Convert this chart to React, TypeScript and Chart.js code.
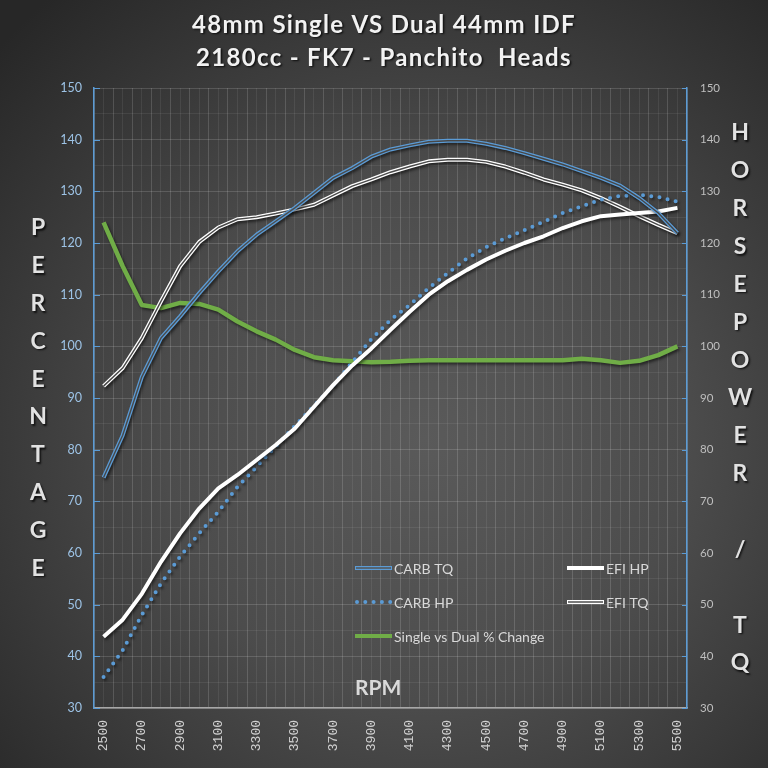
import React, { useEffect, useRef } from "react";
import { Chart, registerables } from "chart.js";

Chart.register(...registerables);

// ---------- data ----------
const RPM = [
  2500, 2600, 2700, 2800, 2900, 3000, 3100, 3200, 3300, 3400, 3500,
  3600, 3700, 3800, 3900, 4000, 4100, 4200, 4300, 4400, 4500,
  4600, 4700, 4800, 4900, 5000, 5100, 5200, 5300, 5400, 5500,
];
const CARB_TQ = [
  74.6, 82.8, 94.1, 101.6, 105.8, 110.3, 114.5, 118.4, 121.6, 124.2, 126.8,
  129.7, 132.6, 134.5, 136.7, 138.1, 138.9, 139.6, 139.8, 139.8, 139.2,
  138.4, 137.4, 136.3, 135.2, 133.9, 132.6, 131.1, 128.7, 125.8, 121.9,
];
const EFI_HP = [
  43.8, 47.1, 52.1, 58.3, 63.8, 68.6, 72.5, 75.1, 78.0, 80.9, 84.1,
  88.3, 92.5, 96.3, 99.6, 103.2, 106.7, 110.0, 112.6, 114.8, 116.8,
  118.5, 120.0, 121.3, 122.9, 124.2, 125.2, 125.5, 125.8, 126.1, 126.8,
];
const CARB_HP = [
  36.0, 41.2, 48.0, 54.1, 59.3, 63.8, 68.0, 72.8, 76.7, 80.6, 84.6,
  88.5, 92.4, 96.9, 101.4, 105.1, 108.0, 111.3, 114.2, 117.0, 119.2,
  120.9, 122.5, 124.1, 125.8, 127.1, 128.4, 129.1, 129.3, 128.9, 128.0,
];
const EFI_TQ = [
  92.3, 95.8, 101.6, 108.7, 115.5, 120.2, 123.0, 124.6, 125.0, 125.7, 126.5,
  127.4, 129.2, 131.0, 132.3, 133.7, 134.8, 135.8, 136.1, 136.1, 135.7,
  134.8, 133.6, 132.3, 131.3, 130.2, 128.7, 127.0, 125.2, 123.5, 121.9,
];
const PCT_CHANGE = [
  124.0, 115.5, 108.0, 107.4, 108.4, 108.2, 107.1, 104.8, 102.9, 101.3, 99.3,
  97.9, 97.3, 97.1, 96.9, 97.0, 97.2, 97.3, 97.3, 97.3, 97.3,
  97.3, 97.3, 97.3, 97.3, 97.6, 97.3, 96.8, 97.2, 98.3, 100.0,
];
const SERIES_NAMES = ["CARB TQ", "EFI HP", "CARB HP", "EFI TQ", "Single vs Dual % Change"];
const TITLE_LINES = ["48mm Single VS Dual 44mm IDF", "2180cc - FK7 - Panchito  Heads"];
const LEFT_AXIS_TITLE = "PERCENTAGE";
const RIGHT_AXIS_TITLE = "HORSEPOWER / TQ";
const X_AXIS_TITLE = "RPM";
const Y_MIN = 30;
const Y_MAX = 150;
const X_MIN = 2450;
const X_MAX = 5550;

// ---------- styles ----------
const BLUE = "#5b9bd5";
const GREEN = "#70ad47";
const WHITE = "#ffffff";

function makeBg(ctx: CanvasRenderingContext2D) {
  const g = ctx.createRadialGradient(425, 440, 0, 425, 440, 580);
  g.addColorStop(0, "#5a5a5a");
  g.addColorStop(0.45, "#4c4c4c");
  g.addColorStop(1, "#272727");
  return g;
}

function pts(values: number[]) {
  return RPM.map((r, i) => ({ x: r, y: values[i] }));
}

export default function App() {
  const ref = useRef<HTMLCanvasElement | null>(null);

  useEffect(() => {
    document.body.style.margin = "0";
    document.body.style.overflow = "hidden";
    const canvas = ref.current!;
    const c2d = canvas.getContext("2d")!;
    const gapColor = makeBg(c2d);

    const shadowed = new Set<number>([1, 2, 3, 5, 6]);

    const bgPlugin = {
      id: "bgPlugin",
      beforeDraw(chart: any) {
        const ctx = chart.ctx;
        ctx.save();
        ctx.fillStyle = makeBg(ctx);
        ctx.fillRect(0, 0, chart.width, chart.height);
        ctx.restore();
      },
    };

    const shadowPlugin = {
      id: "shadowPlugin",
      beforeDatasetDraw(chart: any, args: any) {
        if (shadowed.has(args.index)) {
          const ctx = chart.ctx;
          ctx.save();
          ctx.shadowColor = "rgba(0,0,0,0.55)";
          ctx.shadowBlur = 3;
          ctx.shadowOffsetX = 1.5;
          ctx.shadowOffsetY = 2;
        }
      },
      afterDatasetDraw(chart: any, args: any) {
        if (shadowed.has(args.index)) chart.ctx.restore();
      },
    };

    const drawSample = (ctx: CanvasRenderingContext2D, kind: string, color: string, x1: number, x2: number, y: number) => {
      ctx.save();
      ctx.lineCap = "butt";
      if (kind === "dots") {
        ctx.setLineDash([0, 8.3]);
        ctx.lineCap = "round";
        ctx.lineWidth = 4;
        ctx.strokeStyle = color;
        ctx.beginPath();
        ctx.moveTo(x1 + 2, y);
        ctx.lineTo(x2, y);
        ctx.stroke();
      } else {
        ctx.lineWidth = 4;
        ctx.strokeStyle = color;
        ctx.beginPath();
        ctx.moveTo(x1, y);
        ctx.lineTo(x2, y);
        ctx.stroke();
        if (kind === "double") {
          ctx.lineWidth = 1.4;
          ctx.strokeStyle = gapColor;
          ctx.beginPath();
          ctx.moveTo(x1 + 1, y);
          ctx.lineTo(x2 - 1, y);
          ctx.stroke();
        }
      }
      ctx.restore();
    };

    const textPlugin = {
      id: "textPlugin",
      afterDraw(chart: any) {
        const ctx: any = chart.ctx;
        const area = chart.chartArea;

        // inner tick marks on both value axes
        ctx.save();
        ctx.strokeStyle = BLUE;
        ctx.lineWidth = 1;
        const yl = chart.scales.y;
        const yr = chart.scales.y1;
        for (let v = Y_MIN; v <= Y_MAX; v += 10) {
          const py = Math.round(yl.getPixelForValue(v)) + 0.5;
          ctx.beginPath();
          ctx.moveTo(area.left, py);
          ctx.lineTo(area.left + 6, py);
          ctx.stroke();
          const py2 = Math.round(yr.getPixelForValue(v)) + 0.5;
          ctx.beginPath();
          ctx.moveTo(area.right - 5, py2);
          ctx.lineTo(area.right, py2);
          ctx.stroke();
        }
        ctx.restore();

        ctx.save();
        ctx.shadowColor = "rgba(0,0,0,0.75)";
        ctx.shadowBlur = 2;
        ctx.shadowOffsetX = 1.5;
        ctx.shadowOffsetY = 1.5;
        ctx.textAlign = "center";
        ctx.textBaseline = "middle";

        // title
        ctx.fillStyle = "#f2f2f2";
        ctx.font = "bold 24px Lato";
        try { ctx.letterSpacing = "1.3px"; } catch (e) {}
        ctx.fillText(TITLE_LINES[0], 384, 25);
        ctx.fillText(TITLE_LINES[1], 384, 58);
        try { ctx.letterSpacing = "0px"; } catch (e) {}

        // vertical axis titles
        ctx.fillStyle = "#e2e2e2";
        ctx.font = "bold 23px Lato";
        LEFT_AXIS_TITLE.split("").forEach((ch, i) => {
          ctx.fillText(ch, 38, 228 + i * 37.8);
        });
        RIGHT_AXIS_TITLE.split("").forEach((ch, i) => {
          if (ch !== " ") ctx.fillText(ch, 740, 133 + i * 37.86);
        });
        ctx.restore();

        // RPM
        ctx.save();
        ctx.fillStyle = "#d9d9d9";
        ctx.font = "bold 21px Lato";
        ctx.textAlign = "left";
        ctx.textBaseline = "middle";
        ctx.fillText(X_AXIS_TITLE, 355, 688);

        // legend
        ctx.font = "14px Lato";
        ctx.fillStyle = "#d9d9d9";
        const items = [
          { name: SERIES_NAMES[0], kind: "double", color: BLUE, x: 355, y: 568 },
          { name: SERIES_NAMES[1], kind: "solid", color: WHITE, x: 567, y: 568 },
          { name: SERIES_NAMES[2], kind: "dots", color: BLUE, x: 355, y: 602 },
          { name: SERIES_NAMES[3], kind: "double", color: WHITE, x: 567, y: 602 },
          { name: SERIES_NAMES[4], kind: "solid", color: GREEN, x: 355, y: 636 },
        ];
        items.forEach((it) => {
          drawSample(ctx, it.kind, it.color, it.x, it.x + 37, it.y);
          ctx.fillText(it.name, it.x + 39, it.y + 1);
        });
        ctx.restore();
      },
    };

    const line = (values: number[], color: any, width: number, axis: string, order: number, extra: any = {}) => ({
      data: pts(values),
      borderColor: color,
      backgroundColor: color,
      borderWidth: width,
      pointRadius: 0,
      pointHoverRadius: 0,
      tension: 0,
      fill: false,
      yAxisID: axis,
      order,
      borderJoinStyle: "round",
      ...extra,
    });

    const chart = new Chart(canvas, {
      type: "line",
      data: {
        datasets: [
          line(CARB_TQ, gapColor, 1.4, "y1", 0), // 0 gap of double line
          line(CARB_TQ, BLUE, 4, "y1", 1), // 1
          line(EFI_HP, WHITE, 4, "y1", 2), // 2
          line(CARB_HP, BLUE, 4, "y1", 3, { borderDash: [0, 8.3], borderCapStyle: "round" }), // 3
          line(EFI_TQ, gapColor, 1.4, "y1", 4), // 4 gap
          line(EFI_TQ, WHITE, 4, "y1", 5), // 5
          line(PCT_CHANGE, GREEN, 4.5, "y", 6), // 6
        ] as any,
      },
      options: {
        animation: false,
        responsive: false,
        devicePixelRatio: 1,
        parsing: false as any,
        normalized: true,
        layout: { padding: { top: 88, left: 0, right: 0, bottom: 0 } },
        plugins: {
          legend: { display: false },
          title: { display: false },
          tooltip: { enabled: false },
        },
        events: [],
        scales: {
          x: {
            type: "linear",
            position: "bottom",
            min: X_MIN,
            max: X_MAX,
            afterBuildTicks: (scale: any) => {
              const t = [];
              for (let v = X_MIN; v <= X_MAX; v += 50) t.push({ value: v });
              scale.ticks = t;
            },
            afterFit: (scale: any) => {
              scale.height = 60;
            },
            ticks: {
              autoSkip: false,
              maxRotation: 90,
              minRotation: 90,
              padding: 12,
              color: "#d0d0d0",
              font: { family: "Liberation Mono", size: 13 },
              callback: (v: any) => (v >= 2500 && (v - 2500) % 200 === 0 ? String(v) : ""),
            },
            grid: {
              drawTicks: false,
              color: (c: any) =>
                c.tick && c.tick.value % 100 === 50 ? "rgba(255,255,255,0.15)" : "rgba(255,255,255,0.075)",
              lineWidth: 1,
            },
            border: { color: "#a8a8a8", width: 1.5 },
          },
          y: {
            type: "linear",
            position: "left",
            min: Y_MIN,
            max: Y_MAX,
            afterFit: (scale: any) => {
              scale.width = 94;
            },
            ticks: {
              stepSize: 5,
              padding: 12,
              color: "#9dc3e6",
              font: { family: "Lato", size: 12.5 },
              callback: (v: any) => (v % 10 === 0 ? String(v) : ""),
            },
            grid: {
              drawTicks: false,
              color: (c: any) =>
                c.tick && c.tick.value % 10 === 0 ? "rgba(255,255,255,0.15)" : "rgba(255,255,255,0.07)",
            },
            border: { color: BLUE, width: 1.5 },
          },
          y1: {
            type: "linear",
            position: "right",
            min: Y_MIN,
            max: Y_MAX,
            afterFit: (scale: any) => {
              scale.width = 81;
            },
            ticks: {
              stepSize: 10,
              padding: 13,
              color: "#bfbfbf",
              font: { family: "Lato", size: 11.5 },
            },
            grid: { drawTicks: false, drawOnChartArea: false },
            border: { color: BLUE, width: 1.5 },
          },
        },
      } as any,
      plugins: [bgPlugin, shadowPlugin, textPlugin],
    });

    return () => chart.destroy();
  }, []);

  return (
    <canvas
      ref={ref}
      width={768}
      height={768}
      style={{ display: "block", width: 768, height: 768 }}
    />
  );
}
